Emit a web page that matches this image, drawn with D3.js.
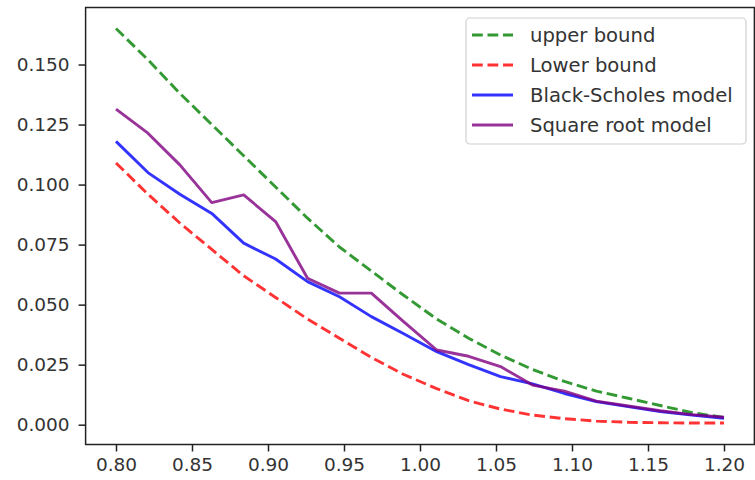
<!DOCTYPE html>
<html>
<head>
<meta charset="utf-8">
<script src="https://cdn.jsdelivr.net/npm/d3@7"></script>
<style>
  body { margin: 0; background: #fff; }
  svg { display: block; font-family: "DejaVu Sans", sans-serif; }
</style>
</head>
<body>
<div id="chart"></div>
<script>
// Strikes (20 evenly spaced points between 0.80 and 1.20)
const strikes = [0.800, 0.821, 0.842, 0.863, 0.884, 0.905, 0.926, 0.947, 0.968, 0.989,
                 1.011, 1.032, 1.053, 1.074, 1.095, 1.116, 1.137, 1.158, 1.179, 1.200];

const upperBound = [0.165, 0.152, 0.138, 0.125, 0.112, 0.099, 0.086, 0.074, 0.064, 0.054,
                    0.044, 0.036, 0.029, 0.023, 0.018, 0.014, 0.011, 0.008, 0.005, 0.003];
const lowerBound = [0.109, 0.096, 0.084, 0.073, 0.062, 0.053, 0.044, 0.036, 0.028, 0.021,
                    0.015, 0.010, 0.0065, 0.004, 0.0025, 0.0015, 0.001, 0.0008, 0.0007, 0.0007];
const blackScholes = [0.118, 0.105, 0.096, 0.088, 0.0756, 0.069, 0.0596, 0.0533, 0.045, 0.038,
                      0.0304, 0.025, 0.020, 0.017, 0.013, 0.0096, 0.0075, 0.0055, 0.004, 0.0027];
const squareRoot = [0.1314, 0.1214, 0.1082, 0.0925, 0.0957, 0.0846, 0.061, 0.0548, 0.0548, 0.043,
                    0.0311, 0.0285, 0.0242, 0.0165, 0.014, 0.0098, 0.0078, 0.0058, 0.0042, 0.0031];

const xTicks = [0.80, 0.85, 0.90, 0.95, 1.00, 1.05, 1.10, 1.15, 1.20];
const yTicks = [0, 0.025, 0.05, 0.075, 0.1, 0.125, 0.15];

const seriesNames = ['upper bound', 'Lower bound', 'Black-Scholes model', 'Square root model'];
const seriesValues = [upperBound, lowerBound, blackScholes, squareRoot];
const seriesColors = ['rgba(0,128,0,0.8)', 'rgba(255,0,0,0.8)', 'rgba(0,0,255,0.8)', 'rgba(128,0,128,0.8)'];
const seriesDashed = [true, true, false, false];

const width = 755;
const height = 480;
const plot = { left: 85.6, right: 754.4, top: 7.5, bottom: 444.5 };

const svg = d3.select('#chart')
  .append('svg')
  .attr('width', width)
  .attr('height', height);

const x = d3.scaleLinear()
  .domain([0.78, 1.22])
  .range([plot.left, plot.right]);

const y = d3.scaleLinear()
  .domain([-0.00825, 0.17375])
  .range([plot.bottom, plot.top]);

// Lines
const line = d3.line()
  .x((d, i) => x(strikes[i]))
  .y(d => y(d));

seriesValues.forEach((vals, k) => {
  svg.append('path')
    .datum(vals)
    .attr('d', line)
    .attr('fill', 'none')
    .attr('stroke', seriesColors[k])
    .attr('stroke-width', 2.9)
    .attr('stroke-linejoin', 'round')
    .attr('stroke-dasharray', seriesDashed[k] ? '10.8,4.7' : null);
});

// Axes
const xAxis = svg.append('g')
  .attr('transform', `translate(0,${plot.bottom})`)
  .call(d3.axisBottom(x).tickValues(xTicks).tickFormat(d3.format('.2f')).tickSize(7).tickPadding(6).tickSizeOuter(0));

const yAxis = svg.append('g')
  .attr('transform', `translate(${plot.left},0)`)
  .call(d3.axisLeft(y).tickValues(yTicks).tickFormat(d3.format('.3f')).tickSize(7).tickPadding(9).tickSizeOuter(0));

[xAxis, yAxis].forEach(g => {
  g.select('.domain').remove();
  g.selectAll('line').attr('stroke', '#222').attr('stroke-width', 1.5);
  g.selectAll('text')
    .attr('fill', '#333')
    .style('font-size', '18.5px')
    .style('font-family', '"DejaVu Sans", sans-serif');
});

// Frame
svg.append('rect')
  .attr('x', plot.left)
  .attr('y', plot.top)
  .attr('width', plot.right - plot.left)
  .attr('height', plot.bottom - plot.top)
  .attr('fill', 'none')
  .attr('stroke', '#222')
  .attr('stroke-width', 1.5);

// Legend
const legend = svg.append('g');

legend.append('rect')
  .attr('x', 466)
  .attr('y', 18)
  .attr('width', 280)
  .attr('height', 126)
  .attr('rx', 4)
  .attr('fill', 'rgba(255,255,255,0.8)')
  .attr('stroke', '#d0d0d0')
  .attr('stroke-width', 1.2);

const rows = legend.selectAll('.row')
  .data(seriesNames)
  .enter()
  .append('g')
  .attr('class', 'row')
  .attr('transform', (d, i) => `translate(0,${35 + i * 30})`);

rows.append('line')
  .attr('x1', 472)
  .attr('x2', 513)
  .attr('stroke', (d, i) => seriesColors[i])
  .attr('stroke-width', 2.9)
  .attr('stroke-dasharray', (d, i) => seriesDashed[i] ? '10.8,4.7' : null);

rows.append('text')
  .attr('x', 530)
  .attr('dy', '0.35em')
  .attr('fill', '#333')
  .style('font-size', '19.6px')
  .text(d => d);
</script>
</body>
</html>
